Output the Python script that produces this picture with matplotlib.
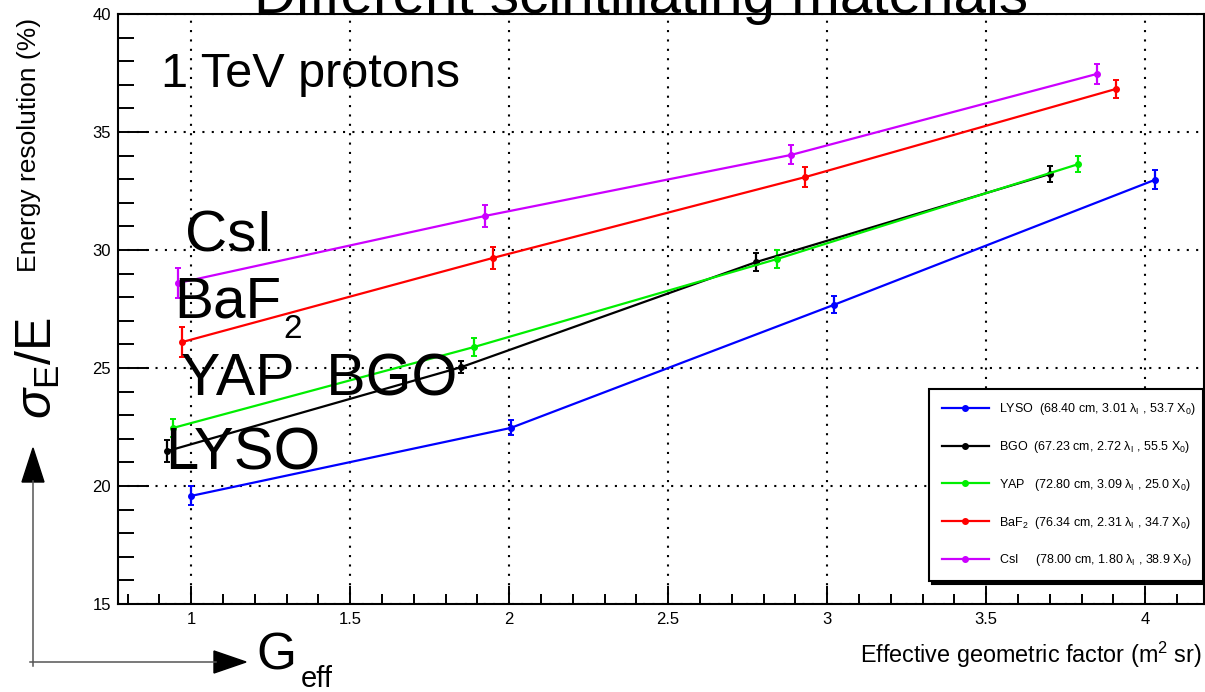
import matplotlib
matplotlib.use("Agg")
import matplotlib.pyplot as plt
from matplotlib.lines import Line2D
from matplotlib.patches import Polygon
from matplotlib.ticker import MultipleLocator, FuncFormatter

plt.rcParams['font.family'] = ['Liberation Sans', 'DejaVu Sans']
plt.rcParams['mathtext.fontset'] = 'custom'
plt.rcParams['mathtext.rm'] = 'Liberation Sans'
plt.rcParams['mathtext.it'] = 'Liberation Sans:italic'
plt.rcParams['mathtext.bf'] = 'Liberation Sans:bold'

# ---- data ----
materials = ["LYSO", "BGO", "YAP", "BaF2", "CsI"]
colors = ["#0000ff", "#000000", "#00ee00", "#ff0000", "#cc00ff"]

lyso_x = [1.00, 2.005, 3.02, 4.03]
lyso_y = [19.58, 22.46, 27.67, 32.97]
lyso_e = [0.40, 0.32, 0.36, 0.40]

bgo_x = [0.925, 1.85, 2.777, 3.70]
bgo_y = [21.48, 25.04, 29.49, 33.22]
bgo_e = [0.45, 0.25, 0.38, 0.33]

yap_x = [0.943, 1.89, 2.843, 3.79]
yap_y = [22.46, 25.89, 29.62, 33.64]
yap_e = [0.40, 0.38, 0.38, 0.35]

baf2_x = [0.972, 1.948, 2.931, 3.907]
baf2_y = [26.10, 29.66, 33.09, 36.82]
baf2_e = [0.62, 0.45, 0.42, 0.40]

csi_x = [0.959, 1.923, 2.887, 3.848]
csi_y = [28.60, 31.44, 34.03, 37.46]
csi_e = [0.62, 0.45, 0.40, 0.44]

legend_labels = [
    r"LYSO  (68.40 cm, 3.01 λ$_{\rm I}$ , 53.7 X$_{\rm 0}$)",
    r"BGO  (67.23 cm, 2.72 λ$_{\rm I}$ , 55.5 X$_{\rm 0}$)",
    r"YAP   (72.80 cm, 3.09 λ$_{\rm I}$ , 25.0 X$_{\rm 0}$)",
    r"BaF$_{\rm 2}$  (76.34 cm, 2.31 λ$_{\rm I}$ , 34.7 X$_{\rm 0}$)",
    r"CsI     (78.00 cm, 1.80 λ$_{\rm I}$ , 38.9 X$_{\rm 0}$)",
]

series = [(lyso_x, lyso_y, lyso_e), (bgo_x, bgo_y, bgo_e), (yap_x, yap_y, yap_e),
          (baf2_x, baf2_y, baf2_e), (csi_x, csi_y, csi_e)]

W, H = 1205, 692
fig = plt.figure(figsize=(W / 100, H / 100), dpi=100)
ax = fig.add_axes([118 / W, 1 - 604 / H, (1204 - 118) / W, (604 - 14) / H])

for (xs, ys, es), c in zip(series, colors):
    ax.errorbar(xs, ys, yerr=es, color=c, lw=1.6, marker='o', markersize=4,
                capsize=2.5, elinewidth=1.6, capthick=1.4, zorder=3)

ax.set_xlim(0.77, 4.185)
ax.set_ylim(15, 40)
ax.xaxis.set_major_locator(MultipleLocator(0.5))
ax.xaxis.set_minor_locator(MultipleLocator(0.1))
ax.yaxis.set_major_locator(MultipleLocator(5))
ax.yaxis.set_minor_locator(MultipleLocator(1))
ax.xaxis.set_major_formatter(FuncFormatter(lambda v, p: "%g" % v))
ax.tick_params(axis='both', which='both', direction='in', width=1.4, labelsize=12,
               top=False, right=False)
ax.tick_params(axis='x', which='major', length=13, pad=6)
ax.tick_params(axis='x', which='minor', length=7)
ax.tick_params(axis='y', which='major', length=22, pad=5)
ax.tick_params(axis='y', which='minor', length=11.5)
ax.grid(True, which='major', color='black', linestyle=(0, (1, 3.5)), linewidth=1.5)
for s in ax.spines.values():
    s.set_linewidth(1.5)

handles = [Line2D([], [], color=c, lw=1.6, marker='o', markersize=4) for c in colors]
leg = ax.legend(handles, legend_labels, loc='lower left',
                bbox_to_anchor=(929 / W, 1 - 581 / H, (1203 - 929) / W, (581 - 389) / H),
                bbox_transform=fig.transFigure, mode='expand', borderaxespad=0,
                fontsize=9, labelspacing=1.75, handlelength=3.8, handletextpad=0.8,
                borderpad=1.0, fancybox=False, framealpha=1, edgecolor='black',
                shadow={'color': 'black', 'alpha': 1})
leg.get_frame().set_linewidth(1.5)

# ---- overlay for annotations (pixel coordinates) ----
ov = fig.add_axes([0, 0, 1, 1], facecolor='none')
ov.set_xlim(0, W)
ov.set_ylim(H, 0)
ov.axis('off')

ov.text(641, 13, "Different scintillating materials", fontsize=42, ha='center', va='baseline')
ov.text(161, 87, "1 TeV protons", fontsize=35, ha='left', va='baseline')
ov.text(185, 252, "CsI", fontsize=42, ha='left', va='baseline')
ov.text(174, 318, "BaF", fontsize=42, ha='left', va='baseline')
ov.text(283, 338, "2", fontsize=24, ha='left', va='baseline')
ov.text(181, 395, "YAP  BGO", fontsize=42.5, ha='left', va='baseline')
ov.text(165, 470, "LYSO", fontsize=43, ha='left', va='baseline')

ov.text(1202, 663, r"Effective geometric factor (m$^{\rm 2}$ sr)", fontsize=16.8,
        ha='right', va='baseline')
ov.text(29, 145, "Energy resolution (%)", fontsize=19, rotation=90, ha='center', va='center')
ov.text(38, 368, r"$\sigma_{\rm E}$/E", fontsize=36, rotation=90, ha='center', va='center')

ov.text(256, 670, "G", fontsize=37, ha='left', va='baseline')
ov.text(301, 687, "eff", fontsize=21, ha='left', va='baseline')

# arrows
ov.plot([30, 216], [662, 662], color='#555555', lw=1.1)
ov.plot([33, 33], [666, 481], color='#555555', lw=1.1)
ov.add_patch(Polygon([[214, 651], [246, 662], [214, 673]], closed=True, color='black'))
ov.add_patch(Polygon([[22, 482], [33, 448], [44, 482]], closed=True, color='black'))

fig.savefig("out.png", dpi=100)
